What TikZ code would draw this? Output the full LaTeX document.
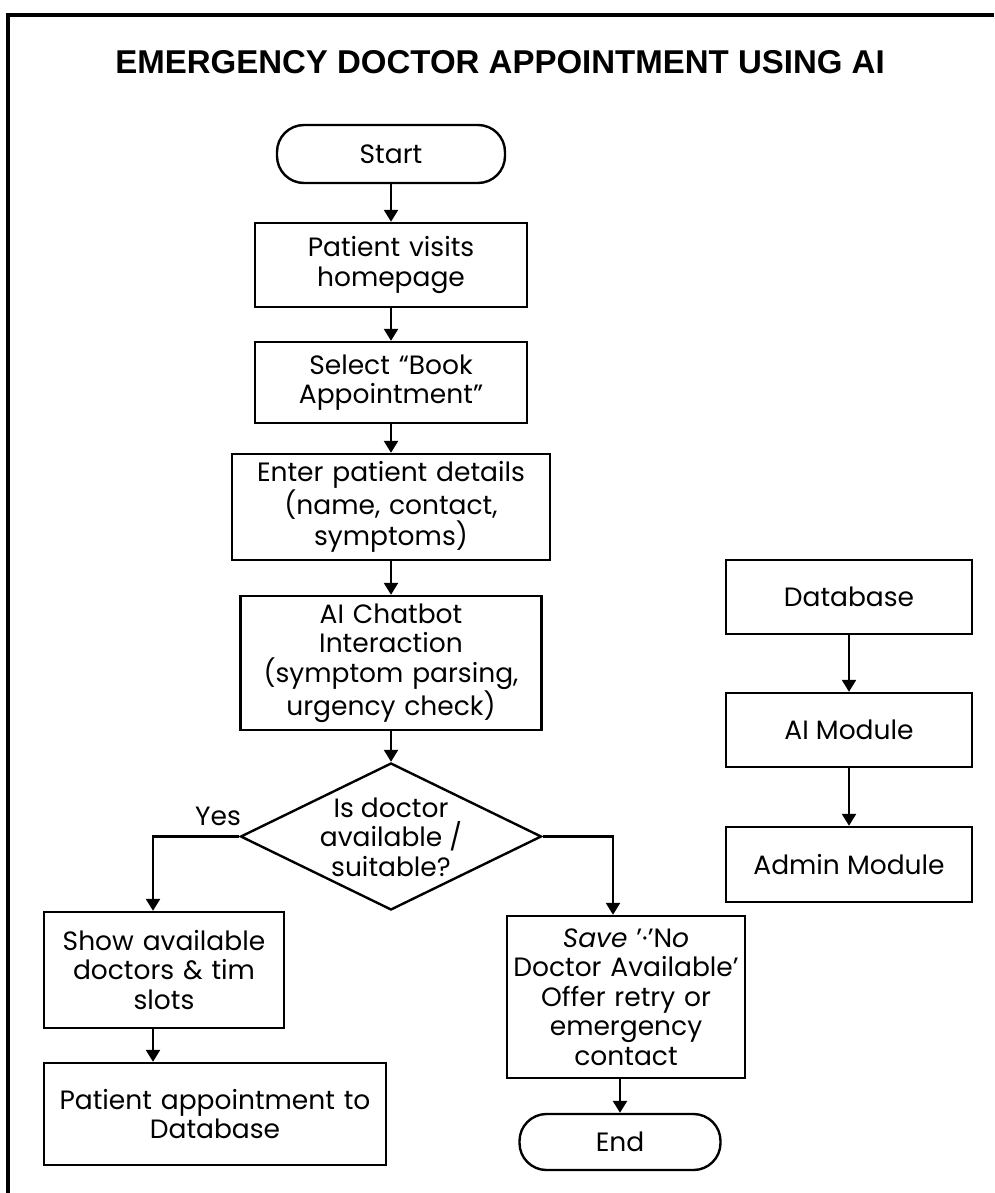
\documentclass[tikz,border=0pt]{standalone}
\usepackage{fontspec}
\setmainfont{Poppins}
\newfontfamily\titlefont{Liberation Sans}
\usetikzlibrary{shapes.geometric,arrows.meta,calc}
\tikzset{
  txt/.style={font=\fontsize{26.5}{29.5}\selectfont},
  box/.style={draw=black,line width=2.4pt,rectangle,inner sep=0pt,align=center,txt},
  term/.style={box,rounded corners=27pt},
  dec/.style={draw=black,line width=2.4pt,diamond,inner sep=0pt},
  arr/.style={line width=2.4pt,-{Triangle[width=14pt,length=12pt]}},
}
\begin{document}
\begin{tikzpicture}[x=1pt,y=-1pt]
\useasboundingbox (0,0) rectangle (994,1193);
\fill[white] (0,0) rectangle (994,1193);
\draw[line width=4pt] (994,15) -- (8,15) -- (8,1193);
\node[font=\titlefont\bfseries\fontsize{33}{36}\selectfont] (title) at (500,62) {EMERGENCY DOCTOR APPOINTMENT USING AI};

\node[term,minimum width=228pt,minimum height=58pt] (start) at (391,154) {Start};
\node[box,minimum width=272pt,minimum height=84pt,text width=265pt] (visit) at (391,265) {Patient visits\\homepage};
\node[box,minimum width=272pt,minimum height=81pt,text width=265pt] (select) at (391,382.5) {Select “Book\\Appointment”};
\node[box,minimum width=318pt,minimum height=106pt,text width=314pt] (enter) at (391,507) {Enter patient details\\(name, contact,\\symptoms)};
\node[box,minimum width=301pt,minimum height=134pt,text width=298pt] (chat) at (391,663) {AI Chatbot\\Interaction\\(symptom parsing,\\urgency check)};
\node[dec,minimum width=301pt,minimum height=147pt] (decide) at (391,836.5) {};
\node[txt,align=center,inner sep=0pt] (decidetxt) at (391,837) {Is doctor\\available /\\suitable?};
\node[box,minimum width=240pt,minimum height=116pt,text width=236pt] (show) at (164,970) {Show available\\doctors \& tim\\slots};
\node[box,minimum width=342pt,minimum height=102pt,text width=338pt] (appt) at (215,1114) {Patient appointment to\\Database};
\node[box,minimum width=238pt,minimum height=162pt,text width=236pt] (save) at (626,997) {{\itshape Save} '·'N{\itshape o}\\Doctor Available'\\Offer retry or\\emergency\\contact};
\node[term,minimum width=201pt,minimum height=56pt] (endn) at (620,1142) {End};
\node[box,minimum width=246pt,minimum height=74pt] (db) at (849,597) {Database};
\node[box,minimum width=246pt,minimum height=74pt] (aim) at (849,730) {AI Module};
\node[box,minimum width=246pt,minimum height=75pt] (admin) at (849,864.5) {Admin Module};
\node[txt] (yes) at (218,816) {Yes};

\draw[arr] (start) -- (visit);
\draw[arr] (visit) -- (select);
\draw[arr] (select) -- (enter);
\draw[arr] (enter) -- (chat);
\draw[arr] (chat) -- (decide);
\draw[arr] (decide.west) -| ([xshift=-11pt]show.north);
\draw[arr] ([xshift=-11pt]show.south) -- ([xshift=-11pt]show.south |- appt.north);
\draw[arr] (decide.east) -| ([xshift=-13pt]save.north);
\draw[arr] ([xshift=-6pt]save.south) -- ([xshift=-6pt]save.south |- endn.north);
\draw[arr] (db) -- (aim);
\draw[arr] (aim) -- (admin);
\end{tikzpicture}
\end{document}
